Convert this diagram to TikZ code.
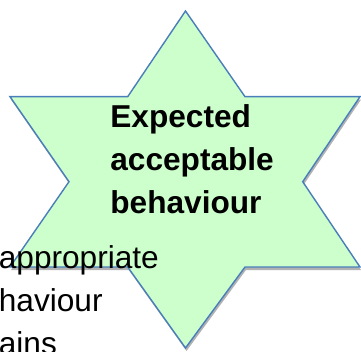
\documentclass[tikz,border=0pt]{standalone}
\usepackage{fontspec}
\setmainfont{Liberation Sans}
\usepackage{xcolor}
\usepackage{tikz}
\usetikzlibrary{arrows.meta, calc, positioning, shadows}

\definecolor{stargreen}{RGB}{204,255,204}
\definecolor{starblue}{RGB}{74,126,187}

\begin{document}
\begin{tikzpicture}[x=0.02cm, y=-0.02cm,
    starshape/.style={fill=stargreen, draw=starblue, line width=0.8pt, line join=miter,
        drop shadow={shadow xshift=0.02cm, shadow yshift=-0.06cm, fill=black, opacity=0.3}},
    startext/.style={inner sep=0pt, align=left, font=\fontsize{18}{24.4}\selectfont\bfseries},
    sidetext/.style={inner sep=0pt, align=left, font=\fontsize{18}{24.4}\selectfont}]
    % rand
    \clip (0,0) rectangle (361,351);

    % ster uit twee driehoeken
    \draw[starshape] (185.5,11) -- (245,96.7) -- (360,96.7) -- (302.7,181.7)
        -- (360,267) -- (245,267) -- (185.5,348) -- (127.7,267) -- (10,267)
        -- (69,181.7) -- (10,96.7) -- (127.7,96.7) -- cycle;

    % teksten (base = laatste regel)
    \node[startext, anchor=base west] (expected) at (110,213) {Expected\\acceptable\\behaviour};
    \node[sidetext, anchor=base west] (inappropriate) at (-1.5,354) {appropriate\\haviour\\ains};
\end{tikzpicture}
\end{document}
